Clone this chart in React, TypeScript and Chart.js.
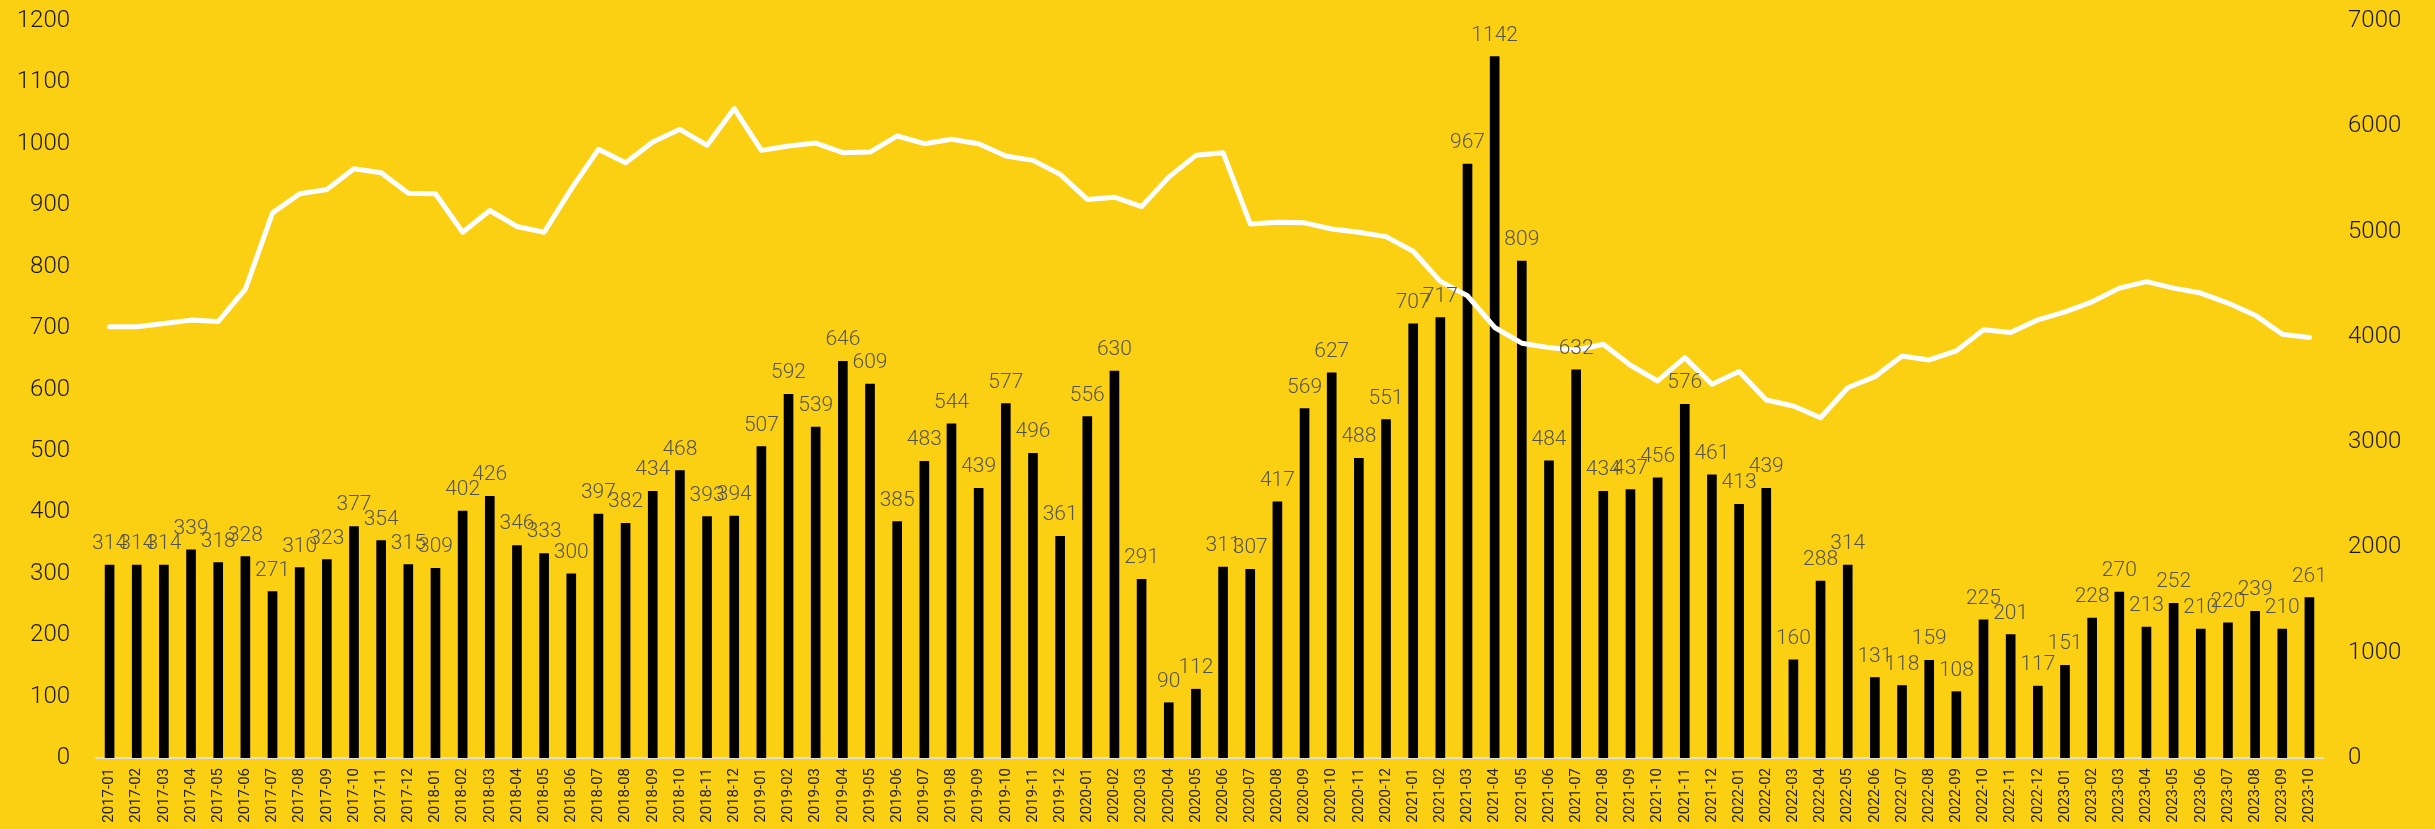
import React, { useEffect, useRef } from 'react';
import { Chart, registerables } from 'chart.js';

Chart.register(...registerables);

const months: string[] = [
  '2017-01','2017-02','2017-03','2017-04','2017-05','2017-06','2017-07','2017-08','2017-09','2017-10','2017-11','2017-12',
  '2018-01','2018-02','2018-03','2018-04','2018-05','2018-06','2018-07','2018-08','2018-09','2018-10','2018-11','2018-12',
  '2019-01','2019-02','2019-03','2019-04','2019-05','2019-06','2019-07','2019-08','2019-09','2019-10','2019-11','2019-12',
  '2020-01','2020-02','2020-03','2020-04','2020-05','2020-06','2020-07','2020-08','2020-09','2020-10','2020-11','2020-12',
  '2021-01','2021-02','2021-03','2021-04','2021-05','2021-06','2021-07','2021-08','2021-09','2021-10','2021-11','2021-12',
  '2022-01','2022-02','2022-03','2022-04','2022-05','2022-06','2022-07','2022-08','2022-09','2022-10','2022-11','2022-12',
  '2023-01','2023-02','2023-03','2023-04','2023-05','2023-06','2023-07','2023-08','2023-09','2023-10',
];

const barValues: number[] = [
  314, 314, 314, 339, 318, 328, 271, 310, 323, 377, 354, 315,
  309, 402, 426, 346, 333, 300, 397, 382, 434, 468, 393, 394,
  507, 592, 539, 646, 609, 385, 483, 544, 439, 577, 496, 361,
  556, 630, 291, 90, 112, 311, 307, 417, 569, 627, 488, 551,
  707, 717, 967, 1142, 809, 484, 632, 434, 437, 456, 576, 461,
  413, 439, 160, 288, 314, 131, 118, 159, 108, 225, 201, 117,
  151, 228, 270, 213, 252, 210, 220, 239, 210, 261,
];

const lineValues: number[] = [
  4095, 4095, 4127, 4159, 4146, 4454, 5178, 5359, 5400, 5597, 5559, 5365,
  5359, 4994, 5200, 5048, 4994, 5406, 5781, 5654, 5850, 5971, 5819, 6168,
  5771, 5813, 5841, 5749, 5755, 5908, 5835, 5876, 5835, 5717, 5676, 5543,
  5305, 5327, 5238, 5517, 5724, 5749, 5073, 5089, 5083, 5025, 4994, 4952,
  4813, 4527, 4390, 4089, 3940, 3898, 3873, 3930, 3730, 3581, 3803, 3549,
  3670, 3400, 3343, 3232, 3517, 3622, 3819, 3781, 3867, 4067, 4041, 4162,
  4238, 4333, 4463, 4524, 4463, 4416, 4321, 4206, 4025, 3994,
];

const BG = '#FCD012';
const FONT = 'Roboto, "Liberation Sans", sans-serif';

const barLabelPlugin = {
  id: 'barLabels',
  afterDatasetsDraw(chart: any) {
    const meta = chart.getDatasetMeta(0);
    const ctx = chart.ctx;
    ctx.save();
    ctx.font = `300 21px ${FONT}`;
    ctx.fillStyle = '#55554f';
    ctx.textAlign = 'center';
    ctx.textBaseline = 'alphabetic';
    meta.data.forEach((el: any, i: number) => {
      ctx.fillText(String(barValues[i]), el.x, el.y - 16);
    });
    ctx.restore();
  },
};

export default function App() {
  const ref = useRef<HTMLCanvasElement | null>(null);

  useEffect(() => {
    document.body.style.margin = '0';
    document.body.style.background = BG;
    if (!ref.current) return;
    const chart = new Chart(ref.current, {
      type: 'bar',
      data: {
        labels: months,
        datasets: [
          {
            type: 'bar',
            data: barValues,
            backgroundColor: '#000000',
            barThickness: 9,
            yAxisID: 'y',
            order: 1,
          },
          {
            type: 'line',
            data: lineValues,
            borderColor: '#ffffff',
            borderWidth: 5,
            pointRadius: 0,
            tension: 0,
            borderCapStyle: 'round',
            borderJoinStyle: 'round',
            yAxisID: 'y1',
            order: 0,
          } as any,
        ],
      },
      options: {
        responsive: false,
        animation: false,
        layout: { padding: { top: 21, left: 0, right: 0, bottom: 0 } },
        plugins: {
          legend: { display: false },
          tooltip: { enabled: false },
        },
        scales: {
          x: {
            offset: true,
            grid: { display: false, drawTicks: false },
            border: { display: true, color: '#dedede', width: 2 },
            ticks: {
              autoSkip: false,
              maxRotation: 90,
              minRotation: 90,
              padding: 10,
              color: '#222222',
              font: { family: FONT, size: 15 },
            },
            afterFit: (s: any) => { s.height = 71; s.paddingLeft = 0; s.paddingRight = 0; },
          },
          y: {
            position: 'left',
            min: 0,
            max: 1200,
            grid: { display: false, drawTicks: false },
            border: { display: false },
            ticks: {
              stepSize: 100,
              padding: 26,
              color: '#1a1a1a',
              font: { family: FONT, size: 24, weight: '300' as any },
              callback: (v: any) => String(v),
            },
            afterFit: (s: any) => { s.width = 96; s.paddingTop = 0; s.paddingBottom = 0; },
          },
          y1: {
            position: 'right',
            min: 0,
            max: 7000,
            grid: { display: false, drawTicks: false },
            border: { display: false },
            ticks: {
              stepSize: 1000,
              padding: 25,
              color: '#1a1a1a',
              font: { family: FONT, size: 24, weight: '300' as any },
              callback: (v: any) => String(v),
            },
            afterFit: (s: any) => { s.width = 112; s.paddingTop = 0; s.paddingBottom = 0; },
          },
        },
      },
      plugins: [barLabelPlugin],
    });
    return () => chart.destroy();
  }, []);

  return (
    <div style={{ width: 2435, height: 829, background: BG }}>
      <canvas ref={ref} width={2435} height={829} style={{ display: 'block' }} />
    </div>
  );
}
